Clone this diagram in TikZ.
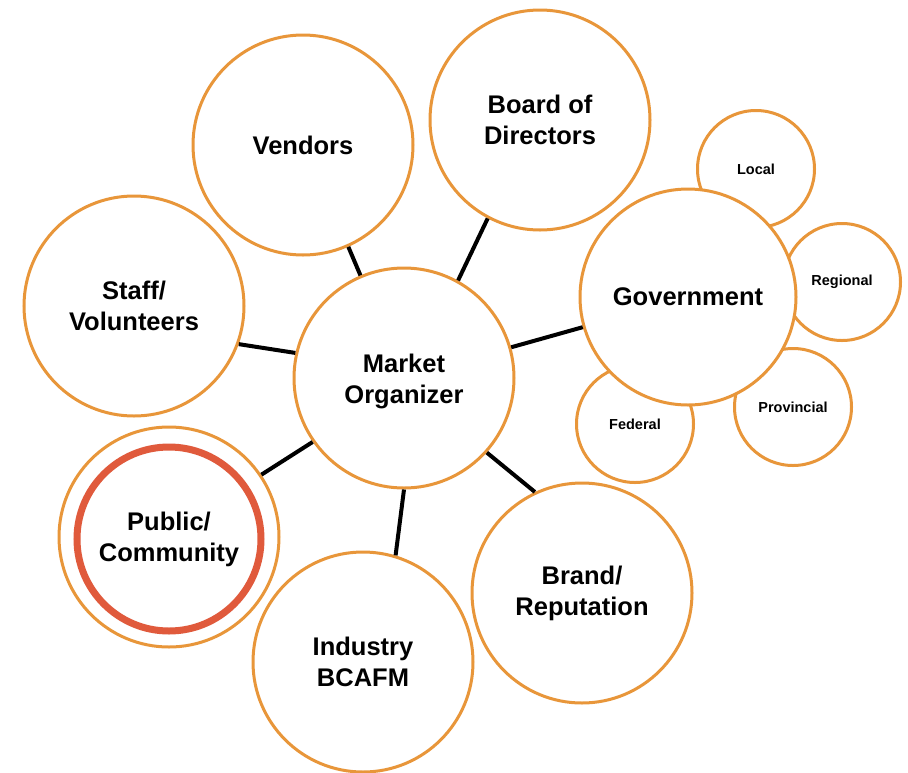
\documentclass[tikz,border=0pt]{standalone}
\usepackage{fontspec}
\setmainfont{Liberation Sans}
\definecolor{ringorange}{HTML}{E8963A}
\definecolor{ringred}{HTML}{E05A3C}
\begin{document}
\begin{tikzpicture}[x=1pt,y=-1pt,
  bigfont/.style={font=\fontsize{25.5}{31}\selectfont\bfseries},
  big/.style={circle,draw=ringorange,line width=3pt,fill=white,minimum size=220pt,inner sep=0pt,align=center,bigfont},
  small/.style={circle,draw=ringorange,line width=3pt,fill=white,minimum size=117pt,inner sep=0pt,align=center,font=\fontsize{14.5}{18}\selectfont\bfseries},
  conn/.style={line width=4pt,black}]
\useasboundingbox (0,0) rectangle (908,772);
% satellites of government
\node[small] (loc) at (756,169) {Local};
\node[small] (reg) at (842,282) {Regional};
\node[small] (prov) at (793,407) {Provincial};
\node[small] (fed) at (635,424) {Federal};
% main circles
\node[big] (mo) at (404,378) {};
\node[bigfont,align=center] (motext) at (404,381) {Market\\Organizer};
\node[big] (ven) at (303,145) {Vendors};
\node[big] (bod) at (540,120) {Board of\\Directors};
\node[big,minimum size=216pt] (gov) at (688,297) {Government};
\node[big] (staff) at (134,306) {Staff/\\Volunteers};
\node[big] (pub) at (169,537) {};
\node[circle,draw=ringred,line width=7pt,minimum size=184pt,inner sep=0pt,align=center,bigfont] (pubin) at (169,539) {Public/\\Community};
\node[big] (ind) at (363,662) {Industry\\BCAFM};
\node[big] (brand) at (582,593) {Brand/\\Reputation};
% connectors
\draw[conn] (mo.113.6) -- (ven.-66.9);
\draw[conn] (mo.61.8) -- (bod.-118.2);
\draw[conn] (mo.16) -- (gov.-164.3);
\draw[conn] (mo.-42.1) -- (brand.115.9);
\draw[conn] (mo.-90.5) -- (ind.73.3);
\draw[conn] (mo.-145.6) -- (pub.34.1);
\draw[conn] (mo.167.6) -- (staff.-20.7);
\end{tikzpicture}
\end{document}
